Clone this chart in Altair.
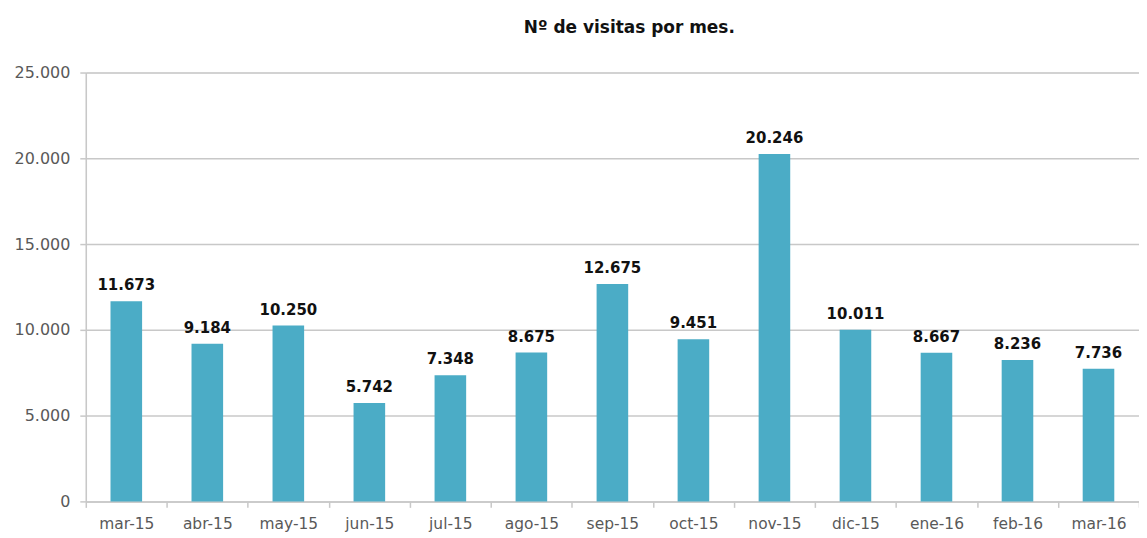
import altair as alt
import pandas as pd

months = ["mar-15", "abr-15", "may-15", "jun-15", "jul-15", "ago-15", "sep-15",
          "oct-15", "nov-15", "dic-15", "ene-16", "feb-16", "mar-16"]
visits = [11673, 9184, 10250, 5742, 7348, 8675, 12675, 9451, 20246, 10011, 8667, 8236, 7736]
y_ticks = [0, 5000, 10000, 15000, 20000, 25000]

df = pd.DataFrame({"mes": months, "visitas": visits})

FONT = "DejaVu Sans"
GRAY = "#595959"
LINE = "#c8c8c8"

x = alt.X("mes:N", sort=months, title=None,
          scale=alt.Scale(paddingInner=0, paddingOuter=0),
          axis=alt.Axis(labelAngle=0, tickBand="extent", tickSize=6, tickColor=LINE,
                        domainColor=LINE, domainWidth=1.5, tickWidth=1.5,
                        labelFont=FONT, labelFontSize=15.5, labelColor=GRAY,
                        labelPadding=9, grid=False))
y = alt.Y("visitas:Q", title=None,
          scale=alt.Scale(domain=[0, 25000], nice=False),
          axis=alt.Axis(values=y_ticks, format=",d", tickSize=6, tickColor=LINE,
                        tickWidth=1.5, domainColor=LINE, domainWidth=1.5,
                        grid=True, gridColor=LINE, gridWidth=1.5,
                        labelFont=FONT, labelFontSize=16, labelColor=GRAY,
                        labelPadding=10))

bars = alt.Chart(df).mark_bar(color="#4BACC6", width=alt.RelativeBandSize(0.39)).encode(x=x, y=y)
labels = alt.Chart(df).mark_text(font=FONT, fontSize=15, fontWeight="bold", color="#111111",
                                 baseline="alphabetic", dy=-11).encode(
    x=alt.X("mes:N", sort=months),
    y=alt.Y("visitas:Q"),
    text=alt.Text("visitas:Q", format=",d"),
)

chart = (bars + labels).properties(
    width=1056, height=430,
    autosize=alt.AutoSizeParams(type="none"),
    padding={"left": 78, "top": 64, "right": 0, "bottom": 34},
    title=alt.TitleParams("Nº de visitas por mes.", font=FONT, fontSize=17,
                          fontWeight="bold", color="#111111", anchor="middle",
                          dx=17, offset=28),
).configure_view(stroke=None).configure(
    locale={"number": {"decimal": ",", "thousands": ".", "grouping": [3],
                       "currency": ["", " €"]}}
)

chart.save("out.html", embed_options={"renderer": "svg", "actions": False})
